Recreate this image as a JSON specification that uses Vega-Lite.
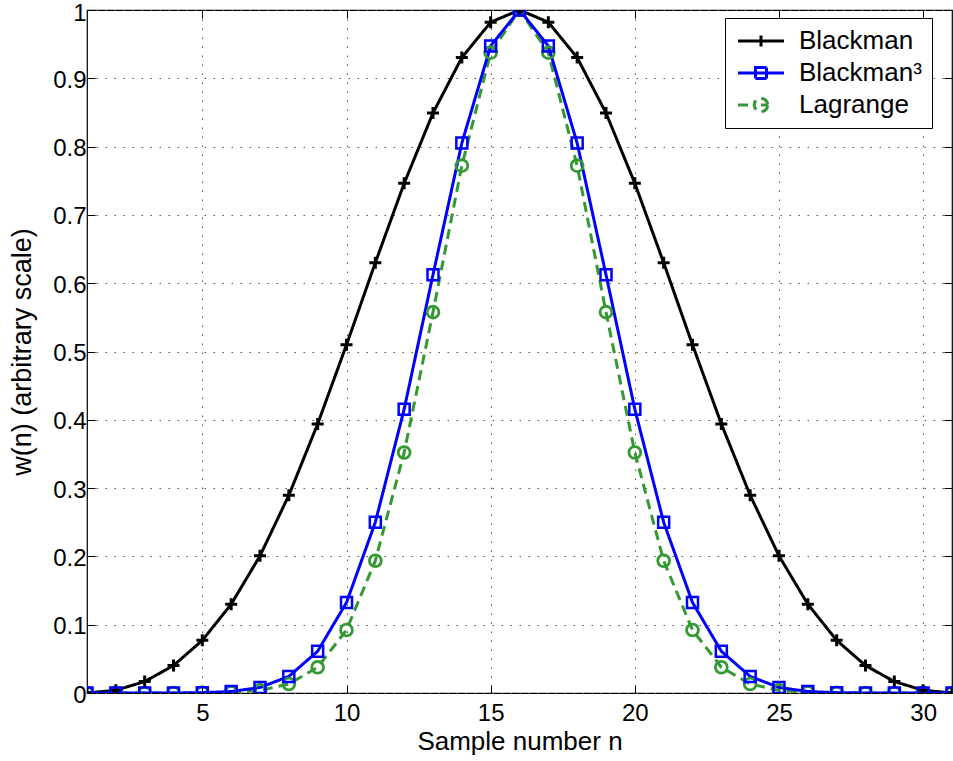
{
  "$schema": "https://vega.github.io/schema/vega-lite/v6.json",
  "width": 865,
  "height": 683,
  "autosize": {"type": "none"},
  "padding": {"left": 87, "top": 10, "right": 1, "bottom": 68},
  "background": "white",
  "config": {
    "view": {"stroke": "black", "strokeWidth": 1.2},
    "axis": {
      "labelFont": "Liberation Sans",
      "labelFontSize": 24,
      "labelColor": "black",
      "titleFont": "Liberation Sans",
      "titleFontSize": 26,
      "titleFontWeight": "normal",
      "titleColor": "black",
      "tickColor": "black",
      "tickWidth": 1,
      "domain": false,
      "gridColor": "#555555",
      "gridDash": [1.5, 7.5],
      "gridWidth": 1,
      "gridOpacity": 1,
      "labelFlush": false,
      "labelOverlap": false
    }
  },
  "data": {
    "values": [
      {"n": 1, "s": "Lagrange", "w": 0},
      {"n": 2, "s": "Lagrange", "w": 0.0000002},
      {"n": 3, "s": "Lagrange", "w": 0.0000028},
      {"n": 4, "s": "Lagrange", "w": 0.000026},
      {"n": 5, "s": "Lagrange", "w": 0.000177},
      {"n": 6, "s": "Lagrange", "w": 0.000919},
      {"n": 7, "s": "Lagrange", "w": 0.003828},
      {"n": 8, "s": "Lagrange", "w": 0.013124},
      {"n": 9, "s": "Lagrange", "w": 0.037732},
      {"n": 10, "s": "Lagrange", "w": 0.092234},
      {"n": 11, "s": "Lagrange", "w": 0.193692},
      {"n": 12, "s": "Lagrange", "w": 0.352167},
      {"n": 13, "s": "Lagrange", "w": 0.557598},
      {"n": 14, "s": "Lagrange", "w": 0.772059},
      {"n": 15, "s": "Lagrange", "w": 0.9375},
      {"n": 16, "s": "Lagrange", "w": 1},
      {"n": 17, "s": "Lagrange", "w": 0.9375},
      {"n": 18, "s": "Lagrange", "w": 0.772059},
      {"n": 19, "s": "Lagrange", "w": 0.557598},
      {"n": 20, "s": "Lagrange", "w": 0.352167},
      {"n": 21, "s": "Lagrange", "w": 0.193692},
      {"n": 22, "s": "Lagrange", "w": 0.092234},
      {"n": 23, "s": "Lagrange", "w": 0.037732},
      {"n": 24, "s": "Lagrange", "w": 0.013124},
      {"n": 25, "s": "Lagrange", "w": 0.003828},
      {"n": 26, "s": "Lagrange", "w": 0.000919},
      {"n": 27, "s": "Lagrange", "w": 0.000177},
      {"n": 28, "s": "Lagrange", "w": 0.000026},
      {"n": 29, "s": "Lagrange", "w": 0.0000028},
      {"n": 30, "s": "Lagrange", "w": 0.0000002},
      {"n": 31, "s": "Lagrange", "w": 0},
      {"n": 1, "s": "Blackman", "w": 0},
      {"n": 2, "s": "Blackman", "w": 0.00401},
      {"n": 3, "s": "Blackman", "w": 0.016757},
      {"n": 4, "s": "Blackman", "w": 0.040213},
      {"n": 5, "s": "Blackman", "w": 0.077072},
      {"n": 6, "s": "Blackman", "w": 0.13},
      {"n": 7, "s": "Blackman", "w": 0.20077},
      {"n": 8, "s": "Blackman", "w": 0.289484},
      {"n": 9, "s": "Blackman", "w": 0.394012},
      {"n": 10, "s": "Blackman", "w": 0.509787},
      {"n": 11, "s": "Blackman", "w": 0.63},
      {"n": 12, "s": "Blackman", "w": 0.746203},
      {"n": 13, "s": "Blackman", "w": 0.849229},
      {"n": 14, "s": "Blackman", "w": 0.930303},
      {"n": 15, "s": "Blackman", "w": 0.982158},
      {"n": 16, "s": "Blackman", "w": 1},
      {"n": 17, "s": "Blackman", "w": 0.982158},
      {"n": 18, "s": "Blackman", "w": 0.930303},
      {"n": 19, "s": "Blackman", "w": 0.849229},
      {"n": 20, "s": "Blackman", "w": 0.746203},
      {"n": 21, "s": "Blackman", "w": 0.63},
      {"n": 22, "s": "Blackman", "w": 0.509787},
      {"n": 23, "s": "Blackman", "w": 0.394012},
      {"n": 24, "s": "Blackman", "w": 0.289484},
      {"n": 25, "s": "Blackman", "w": 0.20077},
      {"n": 26, "s": "Blackman", "w": 0.13},
      {"n": 27, "s": "Blackman", "w": 0.077072},
      {"n": 28, "s": "Blackman", "w": 0.040213},
      {"n": 29, "s": "Blackman", "w": 0.016757},
      {"n": 30, "s": "Blackman", "w": 0.00401},
      {"n": 31, "s": "Blackman", "w": 0},
      {"n": 1, "s": "Blackman³", "w": 0},
      {"n": 2, "s": "Blackman³", "w": 0.0000001},
      {"n": 3, "s": "Blackman³", "w": 0.0000047},
      {"n": 4, "s": "Blackman³", "w": 0.000065},
      {"n": 5, "s": "Blackman³", "w": 0.000458},
      {"n": 6, "s": "Blackman³", "w": 0.002197},
      {"n": 7, "s": "Blackman³", "w": 0.008093},
      {"n": 8, "s": "Blackman³", "w": 0.024259},
      {"n": 9, "s": "Blackman³", "w": 0.061168},
      {"n": 10, "s": "Blackman³", "w": 0.132485},
      {"n": 11, "s": "Blackman³", "w": 0.250047},
      {"n": 12, "s": "Blackman³", "w": 0.4155},
      {"n": 13, "s": "Blackman³", "w": 0.612457},
      {"n": 14, "s": "Blackman³", "w": 0.805143},
      {"n": 15, "s": "Blackman³", "w": 0.947423},
      {"n": 16, "s": "Blackman³", "w": 1},
      {"n": 17, "s": "Blackman³", "w": 0.947423},
      {"n": 18, "s": "Blackman³", "w": 0.805143},
      {"n": 19, "s": "Blackman³", "w": 0.612457},
      {"n": 20, "s": "Blackman³", "w": 0.4155},
      {"n": 21, "s": "Blackman³", "w": 0.250047},
      {"n": 22, "s": "Blackman³", "w": 0.132485},
      {"n": 23, "s": "Blackman³", "w": 0.061168},
      {"n": 24, "s": "Blackman³", "w": 0.024259},
      {"n": 25, "s": "Blackman³", "w": 0.008093},
      {"n": 26, "s": "Blackman³", "w": 0.002197},
      {"n": 27, "s": "Blackman³", "w": 0.000458},
      {"n": 28, "s": "Blackman³", "w": 0.000065},
      {"n": 29, "s": "Blackman³", "w": 0.0000047},
      {"n": 30, "s": "Blackman³", "w": 0.0000001},
      {"n": 31, "s": "Blackman³", "w": 0}
    ]
  },
  "resolve": {"axis": {"x": "independent", "y": "independent"}},
  "layer": [
    {
      "mark": {"type": "line", "strokeWidth": 3, "clip": true},
      "encoding": {
        "x": {
          "field": "n", "type": "quantitative",
          "scale": {"domain": [1, 31], "nice": false, "zero": false},
          "axis": {"orient": "bottom", "values": [5, 10, 15, 20, 25, 30], "grid": true, "tickSize": -8, "labelPadding": 16, "title": "Sample number n", "titlePadding": 3}
        },
        "y": {
          "field": "w", "type": "quantitative",
          "scale": {"domain": [0, 1], "nice": false},
          "axis": {"orient": "left", "values": [0, 0.1, 0.2, 0.3, 0.4, 0.5, 0.6, 0.7, 0.8, 0.9, 1], "format": "~g", "grid": true, "tickSize": -8, "labelPadding": 9, "labelOffset": {"condition": {"test": "datum.value >= 0.99", "value": 3.5}, "value": 2}, "title": "w(n) (arbitrary scale)", "titleFontSize": 27, "titlePadding": 16}
        },
        "color": {
          "field": "s", "type": "nominal",
          "scale": {"domain": ["Blackman", "Blackman³", "Lagrange"], "range": ["#000000", "#0000ff", "#339933"]},
          "legend": {
            "title": null,
            "orient": "none",
            "legendX": 638,
            "legendY": 8,
            "fillColor": "white",
            "strokeColor": "black",
            "padding": 10,
            "symbolSize": 400,
            "symbolStrokeWidth": 3,
            "labelFont": "Liberation Sans",
            "labelFontSize": 26,
            "labelColor": "black",
            "labelOffset": 38,
            "labelLimit": 300,
            "rowPadding": 6,
            "encode": {
              "symbols": {
                "update": {
                  "shape": {"signal": "datum.value === 'Blackman' ? 'M-1,0H3.6M1.3,-0.55V0.55' : datum.value === 'Lagrange' ? 'M-1,0H0.15M1.3,0H1.98M1.98,0L1.89,0.34L1.64,0.59L1.3,0.68L0.96,0.59L0.71,0.34L0.62,0L0.71,-0.34L0.96,-0.59L1.3,-0.68L1.64,-0.59L1.89,-0.34Z' : 'M-1,0H3.6M0.75,-0.55H1.85V0.55H0.75Z'"},
                  "fill": {"value": "transparent"},
                  "strokeDash": {"value": [1, 0]}
                }
              }
            }
          }
        },
        "strokeDash": {
          "field": "s", "type": "nominal",
          "scale": {"domain": ["Blackman", "Blackman³", "Lagrange"], "range": [[1, 0], [1, 0], [10, 6]]},
          "legend": null
        }
      }
    },
    {
      "transform": [{"filter": "datum.s === 'Lagrange'"}],
      "mark": {"type": "point", "shape": "circle", "filled": false, "strokeWidth": 2.8, "size": 140, "opacity": 1, "clip": true},
      "encoding": {
        "x": {
          "field": "n", "type": "quantitative",
          "scale": {"domain": [1, 31], "nice": false, "zero": false},
          "axis": {"orient": "top", "values": [5, 10, 15, 20, 25, 30], "grid": false, "labels": false, "tickSize": -8, "title": null}
        },
        "y": {
          "field": "w", "type": "quantitative",
          "scale": {"domain": [0, 1], "nice": false},
          "axis": {"orient": "right", "values": [0, 0.1, 0.2, 0.3, 0.4, 0.5, 0.6, 0.7, 0.8, 0.9, 1], "grid": false, "labels": false, "tickSize": -8, "title": null}
        },
        "color": {"field": "s", "type": "nominal", "legend": null}
      }
    },
    {
      "transform": [{"filter": "datum.s === 'Blackman'"}],
      "mark": {"type": "point", "shape": "M-1,0H1M0,-1V1", "filled": false, "strokeWidth": 3, "size": 144, "opacity": 1, "clip": true},
      "encoding": {
        "x": {"field": "n", "type": "quantitative", "axis": null},
        "y": {"field": "w", "type": "quantitative", "axis": null},
        "color": {"field": "s", "type": "nominal", "legend": null}
      }
    },
    {
      "transform": [{"filter": "datum.s === 'Blackman³'"}],
      "mark": {"type": "point", "shape": "square", "filled": false, "strokeWidth": 2.5, "size": 121, "opacity": 1, "clip": true},
      "encoding": {
        "x": {"field": "n", "type": "quantitative", "axis": null},
        "y": {"field": "w", "type": "quantitative", "axis": null},
        "color": {"field": "s", "type": "nominal", "legend": null}
      }
    }
  ]
}
